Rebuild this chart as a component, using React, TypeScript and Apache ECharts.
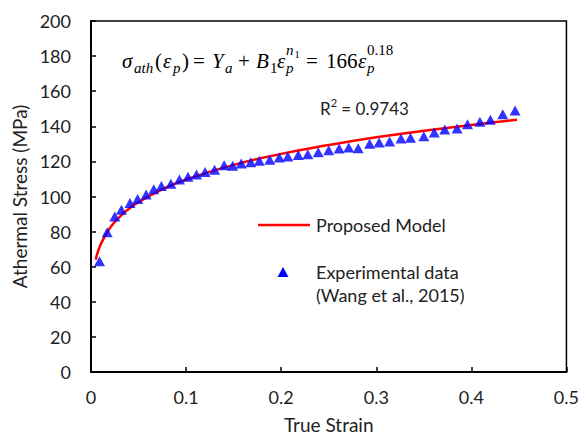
import React, { useEffect, useRef } from "react";
import * as echarts from "echarts";

// Experimental data (Wang et al., 2015)
const expStrain = [0.009, 0.017, 0.025, 0.032, 0.041, 0.049, 0.058, 0.066, 0.074, 0.084, 0.093, 0.102, 0.111, 0.12, 0.13, 0.14, 0.149, 0.158, 0.168, 0.177, 0.188, 0.198, 0.207, 0.218, 0.228, 0.239, 0.25, 0.261, 0.271, 0.281, 0.293, 0.303, 0.314, 0.326, 0.336, 0.35, 0.361, 0.372, 0.385, 0.396, 0.409, 0.42, 0.433, 0.446];
const expStress = [63.1, 79.7, 88.6, 92.5, 96.3, 98.6, 101.2, 104.2, 106, 107.3, 109.7, 111.2, 112.6, 114, 115.2, 117.8, 117.5, 118.8, 119.5, 120.3, 120.9, 122.2, 122.8, 123.7, 124.1, 125.2, 126.3, 127.3, 127.9, 127.5, 130.1, 130.7, 131.4, 133, 133.5, 134.4, 136.4, 138.2, 138.8, 141.2, 142.6, 143.7, 146.9, 149];

// Proposed model curve
const modelStrain = [0.005, 0.01, 0.02, 0.03, 0.04, 0.05, 0.075, 0.1, 0.15, 0.2, 0.25, 0.3, 0.35, 0.4, 0.448];
const modelStress = [63.9, 72.5, 82.1, 88.3, 93.0, 96.8, 104.1, 109.7, 118.0, 124.3, 129.3, 133.7, 137.4, 140.8, 143.7];

const xTicks = { min: 0, max: 0.5, interval: 0.1 };
const yTicks = { min: 0, max: 200, interval: 20 };

const SANS = "Lato";
const SERIF = "Liberation Serif";
const TXT = "#222";

type Piece = { t: string; x: number; kind: "main" | "sub" | "sup" | "supsub"; italic?: boolean };
const formulaPieces: Piece[] = [
  { t: "σ", x: 122, kind: "main", italic: true },
  { t: "ath", x: 134, kind: "sub", italic: true },
  { t: "(", x: 155, kind: "main" },
  { t: "ε", x: 163, kind: "main", italic: true },
  { t: "p", x: 173, kind: "sub", italic: true },
  { t: ")", x: 182, kind: "main" },
  { t: "=", x: 193, kind: "main" },
  { t: "Y", x: 212, kind: "main", italic: true },
  { t: "a", x: 225, kind: "sub", italic: true },
  { t: "+", x: 238, kind: "main" },
  { t: "B", x: 256, kind: "main", italic: true },
  { t: "1", x: 270, kind: "sub" },
  { t: "ε", x: 277, kind: "main", italic: true },
  { t: "p", x: 286, kind: "sub", italic: true },
  { t: "n", x: 286, kind: "sup", italic: true },
  { t: "1", x: 294.5, kind: "supsub" },
  { t: "=", x: 306, kind: "main" },
  { t: "166", x: 326, kind: "main" },
  { t: "ε", x: 358, kind: "main", italic: true },
  { t: "p", x: 367, kind: "sub", italic: true },
  { t: "0.18", x: 367, kind: "sup" },
];

function pieceStyle(p: Piece) {
  const sizes = { main: 21, sub: 15, sup: 15, supsub: 10.5 };
  const ys = { main: 61, sub: 68, sup: 50, supsub: 54 };
  return {
    type: "text",
    x: p.x,
    y: ys[p.kind],
    silent: true,
    style: {
      text: p.t,
      fontFamily: SERIF,
      fontSize: sizes[p.kind],
      fontStyle: p.italic ? "italic" : "normal",
      fill: "#000",
      align: "left",
      verticalAlign: "middle",
    },
  };
}

export default function App() {
  const ref = useRef<HTMLDivElement>(null);
  useEffect(() => {
    if (!ref.current) return;
    const chart = echarts.init(ref.current, undefined, { renderer: "svg" });
    const expData = expStrain.map((x, i) => [x, expStress[i]]);
    const modelData = modelStrain.map((x, i) => [x, modelStress[i]]);
    chart.setOption({
      animation: false,
      backgroundColor: "#fff",
      grid: {
        left: 91,
        right: 15,
        top: 21,
        bottom: 65,
        show: true,
        borderColor: "#000",
        borderWidth: 1.5,
        containLabel: false,
      },
      xAxis: {
        type: "value",
        min: xTicks.min,
        max: xTicks.max,
        interval: xTicks.interval,
        name: "True Strain",
        nameLocation: "middle",
        nameGap: 43,
        nameTextStyle: { fontFamily: SANS, fontSize: 19, color: TXT },
        axisLine: { show: true, onZero: false, lineStyle: { color: "#000", width: 2 } },
        axisTick: { show: true, inside: true, length: 5, lineStyle: { color: "#000", width: 1.5 } },
        axisLabel: { fontFamily: SANS, fontSize: 18, color: TXT, margin: 16 },
        splitLine: { show: false },
      },
      yAxis: {
        type: "value",
        min: yTicks.min,
        max: yTicks.max,
        interval: yTicks.interval,
        name: "Athermal Stress (MPa)",
        nameLocation: "middle",
        nameGap: 57,
        nameRotate: 90,
        nameTextStyle: { fontFamily: SANS, fontSize: 19, color: TXT },
        axisLine: { show: true, onZero: false, lineStyle: { color: "#000", width: 2 } },
        axisTick: { show: true, inside: true, length: 5, lineStyle: { color: "#000", width: 1.5 } },
        axisLabel: { fontFamily: SANS, fontSize: 18, color: TXT, margin: 20 },
        splitLine: { show: false },
      },
      series: [
        {
          name: "Proposed Model",
          type: "line",
          data: modelData,
          smooth: true,
          showSymbol: false,
          lineStyle: { color: "#ff0000", width: 2.5 },
          z: 2,
        },
        {
          name: "Experimental data (Wang et al., 2015)",
          type: "scatter",
          data: expData,
          symbol: "triangle",
          symbolSize: [11, 10],
          itemStyle: { color: "#0000ff" },
          z: 3,
        },
      ],
      graphic: [
        ...formulaPieces.map(pieceStyle),
        {
          type: "text",
          x: 320,
          y: 107,
          silent: true,
          style: {
            text: "{r|R}{s|2}{r| = 0.9743}",
            fontFamily: SANS,
            verticalAlign: "middle",
            align: "left",
            rich: {
              r: { fontFamily: SANS, fontSize: 17, fill: TXT, color: TXT, verticalAlign: "bottom", lineHeight: 20 },
              s: { fontFamily: SANS, fontSize: 11, fill: TXT, color: TXT, verticalAlign: "top", lineHeight: 20 },
            },
          },
        },
        {
          type: "line",
          silent: true,
          shape: { x1: 258, y1: 225, x2: 310, y2: 225 },
          style: { stroke: "#ff0000", lineWidth: 2.5 },
        },
        {
          type: "text",
          x: 316,
          y: 225,
          silent: true,
          style: { text: "Proposed Model", fontFamily: SANS, fontSize: 18, fill: TXT, verticalAlign: "middle" },
        },
        {
          type: "polygon",
          silent: true,
          shape: { points: [[283, 267], [288.5, 277], [277.5, 277]] },
          style: { fill: "#0000ff" },
        },
        {
          type: "text",
          x: 316,
          y: 272,
          silent: true,
          style: { text: "Experimental data", fontFamily: SANS, fontSize: 18, fill: TXT, verticalAlign: "middle" },
        },
        {
          type: "text",
          x: 316,
          y: 295,
          silent: true,
          style: { text: "(Wang et al., 2015)", fontFamily: SANS, fontSize: 18, fill: TXT, verticalAlign: "middle" },
        },
      ],
    });
    return () => chart.dispose();
  }, []);
  return <div ref={ref} style={{ width: 582, height: 439, position: "absolute", left: 0, top: 0 }} />;
}
